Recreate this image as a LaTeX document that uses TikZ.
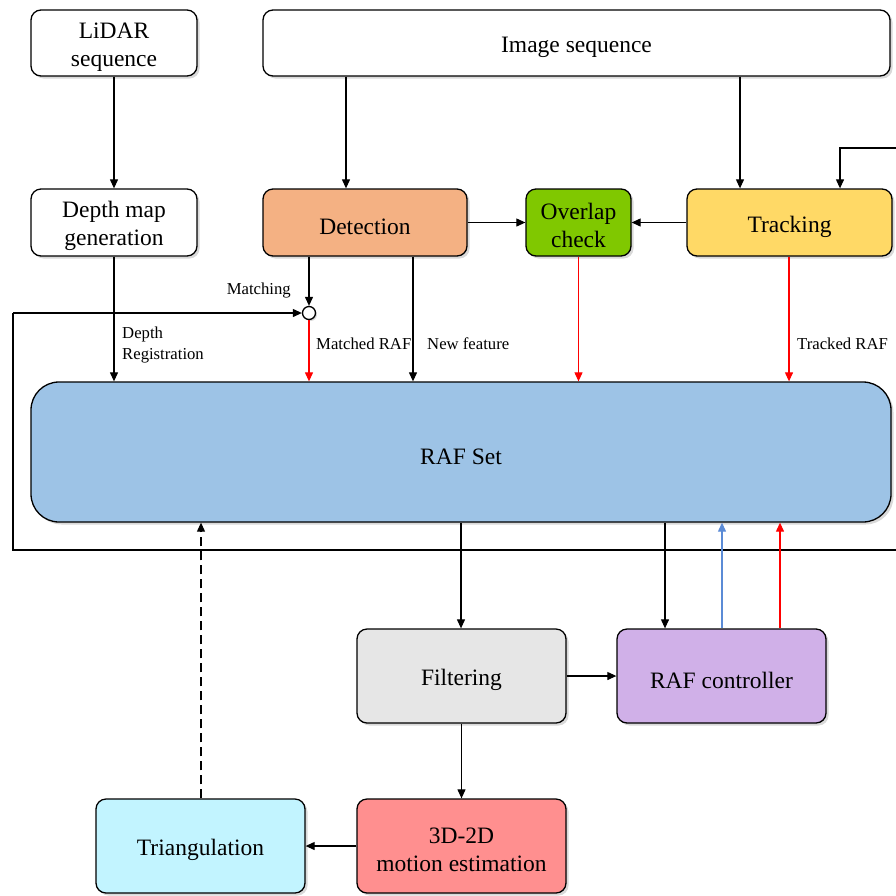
\documentclass[tikz,border=0pt]{standalone}
\usepackage{fontspec}
\setmainfont{Liberation Serif}
\usetikzlibrary{arrows.meta,shadows}
\definecolor{cdet}{HTML}{F4B183}
\definecolor{covl}{HTML}{80C800}
\definecolor{ctrk}{HTML}{FFD966}
\definecolor{craf}{HTML}{9DC3E6}
\definecolor{cfil}{HTML}{E6E6E6}
\definecolor{cctl}{HTML}{D0B0E8}
\definecolor{ctri}{HTML}{C2F4FF}
\definecolor{cmot}{HTML}{FF8F8F}
\definecolor{cblue}{HTML}{5B8BD6}
\begin{document}
\begin{tikzpicture}[x=1pt,y=-1pt,
  boxbase/.style={draw, fill=white, line width=1.3pt, rounded corners=10pt, align=center,
    font=\fontsize{23.5}{28}\selectfont, inner sep=0pt,
    drop shadow={shadow xshift=2.5pt, shadow yshift=-2.5pt, opacity=0.3, fill=gray}},
  box/.style={boxbase, execute at begin node={\rule{0pt}{25pt}}},
  twobox/.style={boxbase, execute at begin node={\rule{0pt}{51pt}}},
  lbl/.style={font=\fontsize{16.7}{20.5}\selectfont, inner sep=0pt, align=left},
  arr/.style={draw, line width=1.1pt, -{Triangle[length=9pt,width=8pt]}},
  ln/.style={draw, line width=1.1pt}]
\useasboundingbox (0,0) rectangle (896,895);
% nodes
\node[twobox, minimum width=166pt, minimum height=66pt] (lidar) at (114,43) {LiDAR\\sequence};
\node[box, minimum width=627pt, minimum height=66pt] (img) at (576.5,43) {Image sequence};
\node[twobox, minimum width=166pt, minimum height=67pt] (dmap) at (114,222.5) {Depth map\\generation};
\node[box, fill=cdet, minimum width=204pt, minimum height=67pt] (det) at (365,222.5) {Detection};
\node[twobox, fill=covl, minimum width=105pt, minimum height=67pt] (ovl) at (578.5,222.5) {Overlap\\check};
\node[box, fill=ctrk, minimum width=205pt, minimum height=67pt] (trk) at (789.5,222.5) {Tracking};
\node[box, fill=craf, rounded corners=28pt, minimum width=860pt, minimum height=140pt] (raf) at (461,452) {RAF Set};
\node[box, fill=cfil, minimum width=209pt, minimum height=94pt] (fil) at (461.5,676) {Filtering};
\node[box, fill=cctl, minimum width=209pt, minimum height=94pt] (ctl) at (721.5,676) {RAF controller};
\node[box, fill=ctri, minimum width=209pt, minimum height=94pt] (tri) at (200.5,846) {Triangulation};
\node[twobox, fill=cmot, minimum width=209pt, minimum height=94pt] (mot) at (461.5,846) {3D-2D\\motion estimation};
\node[circle, draw, line width=1.3pt, fill=white, minimum size=13pt, inner sep=0pt,
  drop shadow={shadow xshift=1.5pt, shadow yshift=-1.5pt, opacity=0.3, fill=gray}] (circ) at (309,313) {};
% x lines
\coordinate (xa) at (346,0);
\coordinate (xb) at (740,0);
\coordinate (xc) at (840,0);
\coordinate (xn) at (413,0);
\coordinate (xt) at (789,0);
\coordinate (xf) at (461,0);
\coordinate (xk) at (665,0);
\coordinate (xbl) at (722,0);
\coordinate (xr) at (780,0);
\coordinate (xtri) at (201,0);
\coordinate (topR) at (896,148);
\coordinate (loopR) at (896,550);
\coordinate (loopL) at (13,550);
\coordinate (loopT) at (13,313);
% connectors
\draw[arr] (lidar) -- (dmap);
\draw[arr] (dmap) -- (raf.north -| dmap);
\draw[arr] (xa |- img.south) -- (xa |- det.north);
\draw[arr] (xb |- img.south) -- (xb |- trk.north);
\draw[arr] (topR) -| (xc |- trk.north);
\draw[arr] (det) -- (ovl);
\draw[arr] (trk) -- (ovl);
\draw[arr] (det.south -| circ) -- (circ);
\draw[ln] (loopR) -- (loopL) -- (loopT);
\draw[arr] (loopT) -- (circ);
\draw[arr, red] (circ) -- (raf.north -| circ);
\draw[arr] (xn |- det.south) -- (xn |- raf.north);
\draw[arr, red] (ovl) -- (raf.north -| ovl);
\draw[arr, red] (xt |- trk.south) -- (xt |- raf.north);
\draw[arr] (xf |- raf.south) -- (xf |- fil.north);
\draw[arr] (xk |- raf.south) -- (xk |- ctl.north);
\draw[arr, cblue] (xbl |- ctl.north) -- (xbl |- raf.south);
\draw[arr, red] (xr |- ctl.north) -- (xr |- raf.south);
\draw[arr] (fil) -- (ctl);
\draw[arr] (fil) -- (mot);
\draw[arr] (mot) -- (tri);
\draw[arr, dashed, dash pattern=on 9pt off 5pt] (tri.north -| xtri) -- (xtri |- raf.south);
% labels
\node[lbl, anchor=east] (lmatch) at (291,291) {Matching};
\node[lbl, anchor=west] (ldepth) at (122,345) {Depth\\Registration};
\node[lbl, anchor=west] (lmraf) at (316,344) {Matched RAF};
\node[lbl, anchor=west] (lnew) at (427,344) {New feature};
\node[lbl, anchor=west] (ltrk) at (797,344) {Tracked RAF};
\end{tikzpicture}
\end{document}
